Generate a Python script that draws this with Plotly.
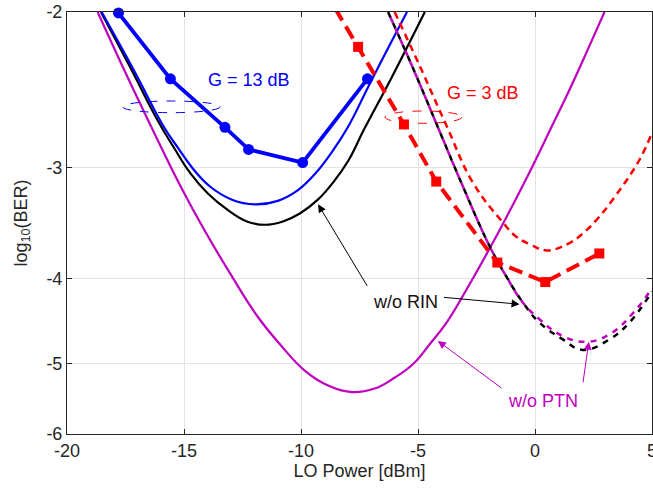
import numpy as np
import plotly.graph_objects as go

# ---------------- data (x: LO power dBm, y: log10(BER)) ----------------
# G = 13 dB, measured
x_g13_meas = [-17.8, -15.58, -13.25, -12.24, -9.93, -7.16]
y_g13_meas = [-2.005, -2.38, -2.70, -2.86, -2.96, -2.38]

# G = 3 dB, measured
x_g3_meas = [-9.0, -7.56, -5.60, -4.22, -1.61, 0.44, 2.75]
y_g3_meas = [-1.89, -2.19, -2.68, -3.11, -3.84, -4.04, -3.75]

# G = 13 dB, theory
x_g13_th = [-18.52, -17.17, -15.85, -15.25, -14.65, -13.89, -12.95, -11.97, -10.99, -10.13, -9.36, -8.68, -8.00, -7.06, -6.21, -5.47]
y_g13_th = [-2.0, -2.32, -2.70, -2.85, -3.0, -3.15, -3.26, -3.30, -3.27, -3.18, -3.04, -2.88, -2.70, -2.41, -2.18, -2.0]

# G = 13 dB, theory w/o RIN
x_g13_norin = [-18.55, -17.30, -16.10, -15.42, -14.74, -13.97, -13.12, -12.31, -11.54, -10.77, -10.05, -9.28, -8.60, -7.96, -7.32, -6.12, -4.71]
y_g13_norin = [-2.0, -2.31, -2.66, -2.85, -3.04, -3.21, -3.35, -3.45, -3.48, -3.45, -3.38, -3.26, -3.11, -2.94, -2.72, -2.37, -2.0]

# G = 13 dB, theory w/o PTN
x_g13_noptn = [-18.69, -17.51, -16.36, -15.17, -14.10, -13.03, -11.88, -10.90, -9.83, -8.77, -7.83, -6.85, -5.99, -5.21, -4.50, -3.78, -2.79, -1.81, -0.96, -0.11, 0.70, 1.47, 2.24, 2.97]
y_g13_noptn = [-2.0, -2.34, -2.71, -3.14, -3.54, -3.95, -4.41, -4.75, -5.09, -5.30, -5.38, -5.33, -5.18, -5.0, -4.75, -4.49, -4.06, -3.65, -3.31, -2.99, -2.70, -2.45, -2.21, -2.0]

# G = 3 dB, theory
x_g3_th = [-6.0, -4.93, -3.78, -2.65, -1.37, -0.80, -0.23, 0.5, 1.47, 2.04, 2.61, 3.32, 4.46, 4.97]
y_g3_th = [-2.0, -2.30, -2.69, -3.12, -3.46, -3.59, -3.66, -3.72, -3.65, -3.56, -3.44, -3.26, -2.94, -2.75]

# G = 3 dB, theory w/o RIN
x_g3_norin = [-6.28, -5.23, -4.20, -3.08, -1.94, -1.23, -0.52, 0.19, 1.19, 2.04, 3.18, 4.03, 5.0]
y_g3_norin = [-2.0, -2.31, -2.68, -3.15, -3.68, -3.98, -4.26, -4.49, -4.69, -4.82, -4.69, -4.49, -4.14]

# G = 3 dB, theory w/o PTN
x_g3_noptn = [-6.28, -5.23, -4.20, -3.08, -1.94, -1.23, -0.52, 0.19, 1.19, 2.18, 3.18, 4.32, 5.0]
y_g3_noptn = [-2.0, -2.31, -2.68, -3.15, -3.68, -3.98, -4.26, -4.45, -4.65, -4.72, -4.63, -4.34, -4.10]

x_ticks = [-20, -15, -10, -5, 0, 5]
y_ticks = [-2, -3, -4, -5, -6]

BLUE = "#0000ff"
RED = "#ff0000"
BLACK = "#000000"
MAG = "#bf00bf"
FONT = "Liberation Sans, Arial, sans-serif"


def neg(v):
    return -np.asarray(v, dtype=float)


fig = go.Figure()


def theory(x, y, color, width=2.2, dash="solid"):
    fig.add_trace(go.Scatter(x=x, y=neg(y), mode="lines",
                             line=dict(color=color, width=width, dash=dash, shape="spline", smoothing=1.2),
                             hoverinfo="skip", showlegend=False))


theory(x_g13_noptn, y_g13_noptn, MAG)
theory(x_g13_norin, y_g13_norin, BLACK)
theory(x_g13_th, y_g13_th, BLUE)
theory(x_g3_th, y_g3_th, RED, width=2.5, dash="7px,5px")
theory(x_g3_norin, y_g3_norin, BLACK, width=2.5, dash="6px,6px")
theory(x_g3_noptn, y_g3_noptn, MAG, width=2.5, dash="0px,6px,6px,0px")

fig.add_trace(go.Scatter(x=x_g3_meas, y=neg(y_g3_meas), mode="lines+markers",
                         line=dict(color=RED, width=4, dash="14px,7px"),
                         marker=dict(symbol="square", size=10, color=RED),
                         showlegend=False))
fig.add_trace(go.Scatter(x=x_g13_meas, y=neg(y_g13_meas), mode="lines+markers",
                         line=dict(color=BLUE, width=3.8),
                         marker=dict(symbol="circle", size=11, color=BLUE),
                         cliponaxis=False, showlegend=False))

ann = []


def text(x, v, s, color):
    ann.append(dict(x=x, y=np.log10(v), xref="x", yref="y", text=s, showarrow=False,
                    font=dict(size=18, color=color, family=FONT)))


def arrow(x, v, ax, ay, color):
    ann.append(dict(x=x, y=np.log10(v), xref="x", yref="y", text="", showarrow=True,
                    ax=ax, ay=ay, arrowhead=2, arrowsize=1.6, arrowwidth=1, arrowcolor=color))


text(-12.24, 2.39, "G = 13 dB", BLUE)
text(-2.24, 2.467, "G = 3 dB", RED)
text(-5.53, 4.25, "w/o RIN", "#111111")
text(0.36, 5.50, "w/o PTN", MAG)
arrow(-9.27, 3.30, 50, 83, BLACK)
arrow(-0.66, 4.28, -77, -7, BLACK)
arrow(-4.15, 4.71, 65, 48, MAG)
arrow(2.30, 4.72, -6, 42, MAG)

shapes = [
    dict(type="circle", xref="paper", yref="paper", x0=0.0952, x1=0.2615, y0=0.7614, y1=0.7891,
         line=dict(color=BLUE, width=1, dash="dash")),
    dict(type="circle", xref="paper", yref="paper", x0=0.5436, x1=0.6747, y0=0.7363, y1=0.7654,
         line=dict(color=RED, width=1, dash="dash")),
]

axis_common = dict(showline=True, linecolor="#262626", linewidth=1, mirror="ticks",
                   ticks="inside", ticklen=5, tickcolor="#262626", automargin=False,
                   showgrid=True, gridcolor="#e3e3e3", gridwidth=1, zeroline=False,
                   ticklabeloverflow="allow",
                   tickfont=dict(size=18, color="#262626", family=FONT))

fig.update_layout(
    width=653, height=491,
    margin=dict(l=67, r=1, t=12, b=57),
    paper_bgcolor="white", plot_bgcolor="white",
    showlegend=False,
    annotations=ann, shapes=shapes,
    xaxis=dict(range=[-20, 5], tickvals=x_ticks, ticktext=[str(t) for t in x_ticks],
               title=dict(text="LO Power [dBm]", font=dict(size=18, color="#262626", family=FONT), standoff=4),
               **axis_common),
    yaxis=dict(type="log", range=[np.log10(6), np.log10(2)],
               tickvals=[-t for t in y_ticks], ticktext=[str(t) for t in y_ticks],
               title=dict(text="log<sub>10</sub>(BER)", font=dict(size=18, color="#262626", family=FONT), standoff=14),
               **axis_common),
)

fig.write_html("out.html", config={"displayModeBar": False},
               post_script="document.body.style.margin='0px';document.body.style.overflow='hidden';")
